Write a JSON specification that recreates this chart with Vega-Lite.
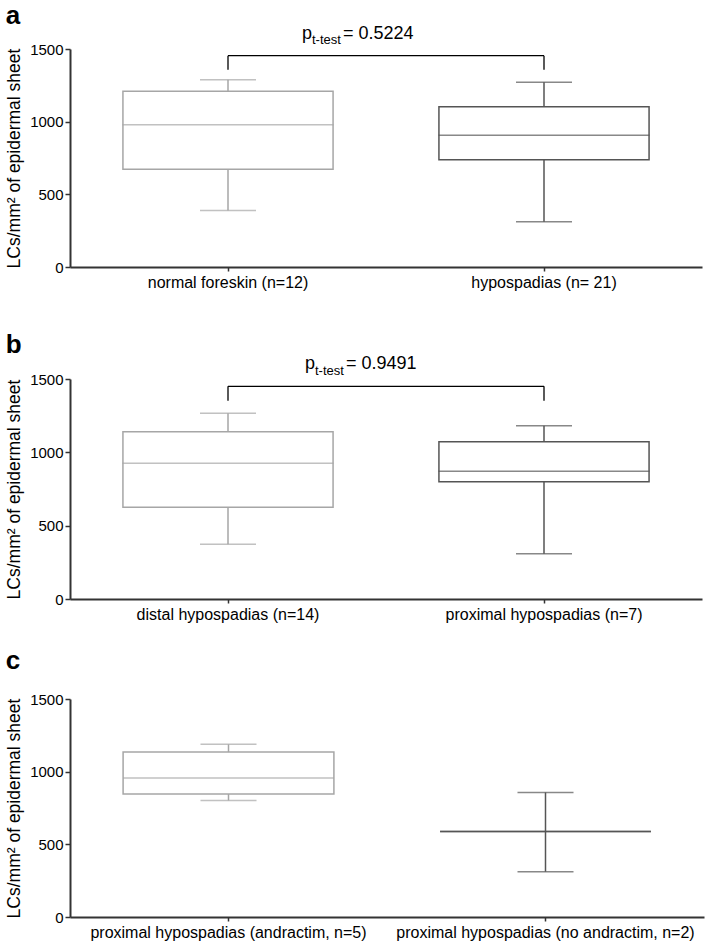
{
  "$schema": "https://vega.github.io/schema/vega-lite/v6.json",
  "background": "white",
  "padding": {"left": 5, "top": 2, "right": 2, "bottom": 2},
  "spacing": 26,
  "datasets": {
    "a_box": [
      {"group": "normal foreskin (n=12)", "min": 388, "q1": 672, "median": 979, "q3": 1209, "max": 1289, "shade": "light"},
      {"group": "hypospadias (n= 21)", "min": 312, "q1": 738, "median": 906, "q3": 1103, "max": 1271, "shade": "dark"}
    ],
    "a_ann": [
      {"g1": "normal foreskin (n=12)", "g2": "hypospadias (n= 21)", "top": 1454, "leg": 1357, "ptext": "= 0.5224"}
    ],
    "b_box": [
      {"group": "distal hypospadias (n=14)", "min": 373, "q1": 625, "median": 925, "q3": 1141, "max": 1266, "shade": "light"},
      {"group": "proximal hypospadias (n=7)", "min": 309, "q1": 800, "median": 871, "q3": 1073, "max": 1182, "shade": "dark"}
    ],
    "b_ann": [
      {"g1": "distal hypospadias (n=14)", "g2": "proximal hypospadias (n=7)", "top": 1450, "leg": 1352, "ptext": "= 0.9491"}
    ],
    "c_box": [
      {"group": "proximal hypospadias (andractim, n=5)", "min": 802, "q1": 846, "median": 956, "q3": 1135, "max": 1188, "shade": "light"},
      {"group": "proximal hypospadias (no andractim, n=2)", "min": 312, "q1": 589, "median": 589, "q3": 589, "max": 857, "shade": "dark"}
    ]
  },
  "config": {
    "view": {"stroke": null},
    "font": "Liberation Sans",
    "axis": {"domainColor": "#333333", "domainWidth": 2, "tickColor": "#333333", "tickWidth": 1.5, "labelColor": "black", "titleColor": "black", "labelFont": "Liberation Sans", "titleFont": "Liberation Sans", "grid": false, "labelLimit": 0},
    "title": {"anchor": "start", "frame": "bounds", "fontSize": 26, "fontWeight": "bold", "font": "Liberation Sans", "color": "black"},
    "text": {"font": "Liberation Sans", "color": "black", "align": "left", "baseline": "alphabetic"}
  },
  "vconcat": [
    {
      "spacing": 42,
      "vconcat": [
        {
          "width": 632, "height": 218,
          "title": {"text": "a", "offset": -4},
          "data": {"name": "a_box"},
          "layer": [
            {"mark": {"type": "bar", "fill": "white", "strokeWidth": 1.5, "width": {"band": 0.665}},
             "encoding": {"x": {"field": "group", "type": "nominal", "title": null, "scale": {"domain": ["normal foreskin (n=12)", "hypospadias (n= 21)"], "paddingInner": 0, "paddingOuter": 0}, "axis": {"labelFontSize": 16, "tickSize": 4, "labelPadding": 3, "labelAngle": 0}},
                          "y": {"field": "q1", "type": "quantitative", "scale": {"domain": [0, 1500], "nice": false}, "title": "LCs/mm² of epidermal sheet", "axis": {"values": [0, 500, 1000, 1500], "format": "d", "labelFontSize": 15, "tickSize": 5, "labelPadding": 2, "titleFontSize": 17.5, "titleFontWeight": "normal", "titlePadding": 6}},
                          "y2": {"field": "q3"},
                          "stroke": {"field": "shade", "type": "nominal", "scale": {"domain": ["light", "dark"], "range": ["#a6a6a6", "#555555"]}, "legend": null}}},
            {"mark": {"type": "rule", "strokeWidth": 1.5},
             "encoding": {"x": {"field": "group", "type": "nominal", "title": null},
                          "y": {"field": "min", "type": "quantitative", "title": "LCs/mm² of epidermal sheet"},
                          "y2": {"field": "q1"},
                          "color": {"field": "shade", "type": "nominal", "scale": {"domain": ["light", "dark"], "range": ["#a6a6a6", "#555555"]}, "legend": null}}},
            {"mark": {"type": "rule", "strokeWidth": 1.5},
             "encoding": {"x": {"field": "group", "type": "nominal", "title": null},
                          "y": {"field": "q3", "type": "quantitative", "title": "LCs/mm² of epidermal sheet"},
                          "y2": {"field": "max"},
                          "color": {"field": "shade", "type": "nominal", "legend": null}}},
            {"mark": {"type": "tick", "size": 56, "thickness": 1.5},
             "encoding": {"x": {"field": "group", "type": "nominal", "title": null},
                          "y": {"field": "min", "type": "quantitative", "title": "LCs/mm² of epidermal sheet"},
                          "color": {"field": "shade", "type": "nominal", "legend": null}}},
            {"mark": {"type": "tick", "size": 56, "thickness": 1.5},
             "encoding": {"x": {"field": "group", "type": "nominal", "title": null},
                          "y": {"field": "max", "type": "quantitative", "title": "LCs/mm² of epidermal sheet"},
                          "color": {"field": "shade", "type": "nominal", "legend": null}}},
            {"mark": {"type": "tick", "size": 211, "thickness": 1.5},
             "encoding": {"x": {"field": "group", "type": "nominal", "title": null},
                          "y": {"field": "median", "type": "quantitative", "title": "LCs/mm² of epidermal sheet"},
                          "color": {"field": "shade", "type": "nominal", "legend": null}}},
            {"data": {"name": "a_ann"}, "mark": {"type": "rule", "strokeWidth": 1.3, "color": "black"},
             "encoding": {"x": {"field": "g1", "type": "nominal", "title": null}, "x2": {"field": "g2"},
                          "y": {"field": "top", "type": "quantitative", "title": "LCs/mm² of epidermal sheet"}}},
            {"data": {"name": "a_ann"}, "mark": {"type": "rule", "strokeWidth": 1.3, "color": "black"},
             "encoding": {"x": {"field": "g1", "type": "nominal", "title": null},
                          "y": {"field": "leg", "type": "quantitative", "title": "LCs/mm² of epidermal sheet"}, "y2": {"field": "top"}}},
            {"data": {"name": "a_ann"}, "mark": {"type": "rule", "strokeWidth": 1.3, "color": "black"},
             "encoding": {"x": {"field": "g2", "type": "nominal", "title": null},
                          "y": {"field": "leg", "type": "quantitative", "title": "LCs/mm² of epidermal sheet"}, "y2": {"field": "top"}}},
            {"data": {"name": "a_ann"}, "mark": {"type": "text", "text": "p", "fontSize": 18, "dx": 74, "dy": -17},
             "encoding": {"x": {"field": "g1", "type": "nominal", "title": null},
                          "y": {"field": "top", "type": "quantitative", "title": "LCs/mm² of epidermal sheet"}}},
            {"data": {"name": "a_ann"}, "mark": {"type": "text", "text": "t-test", "fontSize": 13, "dx": 84, "dy": -11.5},
             "encoding": {"x": {"field": "g1", "type": "nominal", "title": null},
                          "y": {"field": "top", "type": "quantitative", "title": "LCs/mm² of epidermal sheet"}}},
            {"data": {"name": "a_ann"}, "mark": {"type": "text", "fontSize": 18, "dx": 115, "dy": -17},
             "encoding": {"x": {"field": "g1", "type": "nominal", "title": null},
                          "y": {"field": "top", "type": "quantitative", "title": "LCs/mm² of epidermal sheet"},
                          "text": {"field": "ptext"}}}
          ]
        },
        {
          "width": 632, "height": 220,
          "title": {"text": "b", "offset": -3},
          "data": {"name": "b_box"},
          "layer": [
            {"mark": {"type": "bar", "fill": "white", "strokeWidth": 1.5, "width": {"band": 0.665}},
             "encoding": {"x": {"field": "group", "type": "nominal", "title": null, "scale": {"domain": ["distal hypospadias (n=14)", "proximal hypospadias (n=7)"], "paddingInner": 0, "paddingOuter": 0}, "axis": {"labelFontSize": 16, "tickSize": 4, "labelPadding": 3, "labelAngle": 0}},
                          "y": {"field": "q1", "type": "quantitative", "scale": {"domain": [0, 1500], "nice": false}, "title": "LCs/mm² of epidermal sheet", "axis": {"values": [0, 500, 1000, 1500], "format": "d", "labelFontSize": 15, "tickSize": 5, "labelPadding": 2, "titleFontSize": 17.5, "titleFontWeight": "normal", "titlePadding": 6}},
                          "y2": {"field": "q3"},
                          "stroke": {"field": "shade", "type": "nominal", "scale": {"domain": ["light", "dark"], "range": ["#a6a6a6", "#555555"]}, "legend": null}}},
            {"mark": {"type": "rule", "strokeWidth": 1.5},
             "encoding": {"x": {"field": "group", "type": "nominal", "title": null},
                          "y": {"field": "min", "type": "quantitative", "title": "LCs/mm² of epidermal sheet"},
                          "y2": {"field": "q1"},
                          "color": {"field": "shade", "type": "nominal", "scale": {"domain": ["light", "dark"], "range": ["#a6a6a6", "#555555"]}, "legend": null}}},
            {"mark": {"type": "rule", "strokeWidth": 1.5},
             "encoding": {"x": {"field": "group", "type": "nominal", "title": null},
                          "y": {"field": "q3", "type": "quantitative", "title": "LCs/mm² of epidermal sheet"},
                          "y2": {"field": "max"},
                          "color": {"field": "shade", "type": "nominal", "legend": null}}},
            {"mark": {"type": "tick", "size": 56, "thickness": 1.5},
             "encoding": {"x": {"field": "group", "type": "nominal", "title": null},
                          "y": {"field": "min", "type": "quantitative", "title": "LCs/mm² of epidermal sheet"},
                          "color": {"field": "shade", "type": "nominal", "legend": null}}},
            {"mark": {"type": "tick", "size": 56, "thickness": 1.5},
             "encoding": {"x": {"field": "group", "type": "nominal", "title": null},
                          "y": {"field": "max", "type": "quantitative", "title": "LCs/mm² of epidermal sheet"},
                          "color": {"field": "shade", "type": "nominal", "legend": null}}},
            {"mark": {"type": "tick", "size": 211, "thickness": 1.5},
             "encoding": {"x": {"field": "group", "type": "nominal", "title": null},
                          "y": {"field": "median", "type": "quantitative", "title": "LCs/mm² of epidermal sheet"},
                          "color": {"field": "shade", "type": "nominal", "legend": null}}},
            {"data": {"name": "b_ann"}, "mark": {"type": "rule", "strokeWidth": 1.3, "color": "black"},
             "encoding": {"x": {"field": "g1", "type": "nominal", "title": null}, "x2": {"field": "g2"},
                          "y": {"field": "top", "type": "quantitative", "title": "LCs/mm² of epidermal sheet"}}},
            {"data": {"name": "b_ann"}, "mark": {"type": "rule", "strokeWidth": 1.3, "color": "black"},
             "encoding": {"x": {"field": "g1", "type": "nominal", "title": null},
                          "y": {"field": "leg", "type": "quantitative", "title": "LCs/mm² of epidermal sheet"}, "y2": {"field": "top"}}},
            {"data": {"name": "b_ann"}, "mark": {"type": "rule", "strokeWidth": 1.3, "color": "black"},
             "encoding": {"x": {"field": "g2", "type": "nominal", "title": null},
                          "y": {"field": "leg", "type": "quantitative", "title": "LCs/mm² of epidermal sheet"}, "y2": {"field": "top"}}},
            {"data": {"name": "b_ann"}, "mark": {"type": "text", "text": "p", "fontSize": 18, "dx": 77, "dy": -17},
             "encoding": {"x": {"field": "g1", "type": "nominal", "title": null},
                          "y": {"field": "top", "type": "quantitative", "title": "LCs/mm² of epidermal sheet"}}},
            {"data": {"name": "b_ann"}, "mark": {"type": "text", "text": "t-test", "fontSize": 13, "dx": 87, "dy": -11.5},
             "encoding": {"x": {"field": "g1", "type": "nominal", "title": null},
                          "y": {"field": "top", "type": "quantitative", "title": "LCs/mm² of epidermal sheet"}}},
            {"data": {"name": "b_ann"}, "mark": {"type": "text", "fontSize": 18, "dx": 118, "dy": -17},
             "encoding": {"x": {"field": "g1", "type": "nominal", "title": null},
                          "y": {"field": "top", "type": "quantitative", "title": "LCs/mm² of epidermal sheet"},
                          "text": {"field": "ptext"}}}
          ]
        }
      ]
    },
    {
      "width": 634, "height": 218,
      "title": {"text": "c", "offset": 18},
      "data": {"name": "c_box"},
      "layer": [
        {"mark": {"type": "bar", "fill": "white", "strokeWidth": 1.5, "width": {"band": 0.665}},
         "encoding": {"x": {"field": "group", "type": "nominal", "title": null, "scale": {"domain": ["proximal hypospadias (andractim, n=5)", "proximal hypospadias (no andractim, n=2)"], "paddingInner": 0, "paddingOuter": 0}, "axis": {"labelFontSize": 16, "tickSize": 4, "labelPadding": 3, "labelAngle": 0}},
                      "y": {"field": "q1", "type": "quantitative", "scale": {"domain": [0, 1500], "nice": false}, "title": "LCs/mm² of epidermal sheet", "axis": {"values": [0, 500, 1000, 1500], "format": "d", "labelFontSize": 15, "tickSize": 5, "labelPadding": 2, "titleFontSize": 17.5, "titleFontWeight": "normal", "titlePadding": 6}},
                      "y2": {"field": "q3"},
                      "stroke": {"field": "shade", "type": "nominal", "scale": {"domain": ["light", "dark"], "range": ["#a6a6a6", "#555555"]}, "legend": null}}},
        {"mark": {"type": "rule", "strokeWidth": 1.5},
         "encoding": {"x": {"field": "group", "type": "nominal", "title": null},
                      "y": {"field": "min", "type": "quantitative", "title": "LCs/mm² of epidermal sheet"},
                      "y2": {"field": "q1"},
                      "color": {"field": "shade", "type": "nominal", "scale": {"domain": ["light", "dark"], "range": ["#a6a6a6", "#555555"]}, "legend": null}}},
        {"mark": {"type": "rule", "strokeWidth": 1.5},
         "encoding": {"x": {"field": "group", "type": "nominal", "title": null},
                      "y": {"field": "q3", "type": "quantitative", "title": "LCs/mm² of epidermal sheet"},
                      "y2": {"field": "max"},
                      "color": {"field": "shade", "type": "nominal", "legend": null}}},
        {"mark": {"type": "tick", "size": 56, "thickness": 1.5},
         "encoding": {"x": {"field": "group", "type": "nominal", "title": null},
                      "y": {"field": "min", "type": "quantitative", "title": "LCs/mm² of epidermal sheet"},
                      "color": {"field": "shade", "type": "nominal", "legend": null}}},
        {"mark": {"type": "tick", "size": 56, "thickness": 1.5},
         "encoding": {"x": {"field": "group", "type": "nominal", "title": null},
                      "y": {"field": "max", "type": "quantitative", "title": "LCs/mm² of epidermal sheet"},
                      "color": {"field": "shade", "type": "nominal", "legend": null}}},
        {"mark": {"type": "tick", "size": 211, "thickness": 1.5},
         "encoding": {"x": {"field": "group", "type": "nominal", "title": null},
                      "y": {"field": "median", "type": "quantitative", "title": "LCs/mm² of epidermal sheet"},
                      "color": {"field": "shade", "type": "nominal", "legend": null}}}
      ]
    }
  ]
}
